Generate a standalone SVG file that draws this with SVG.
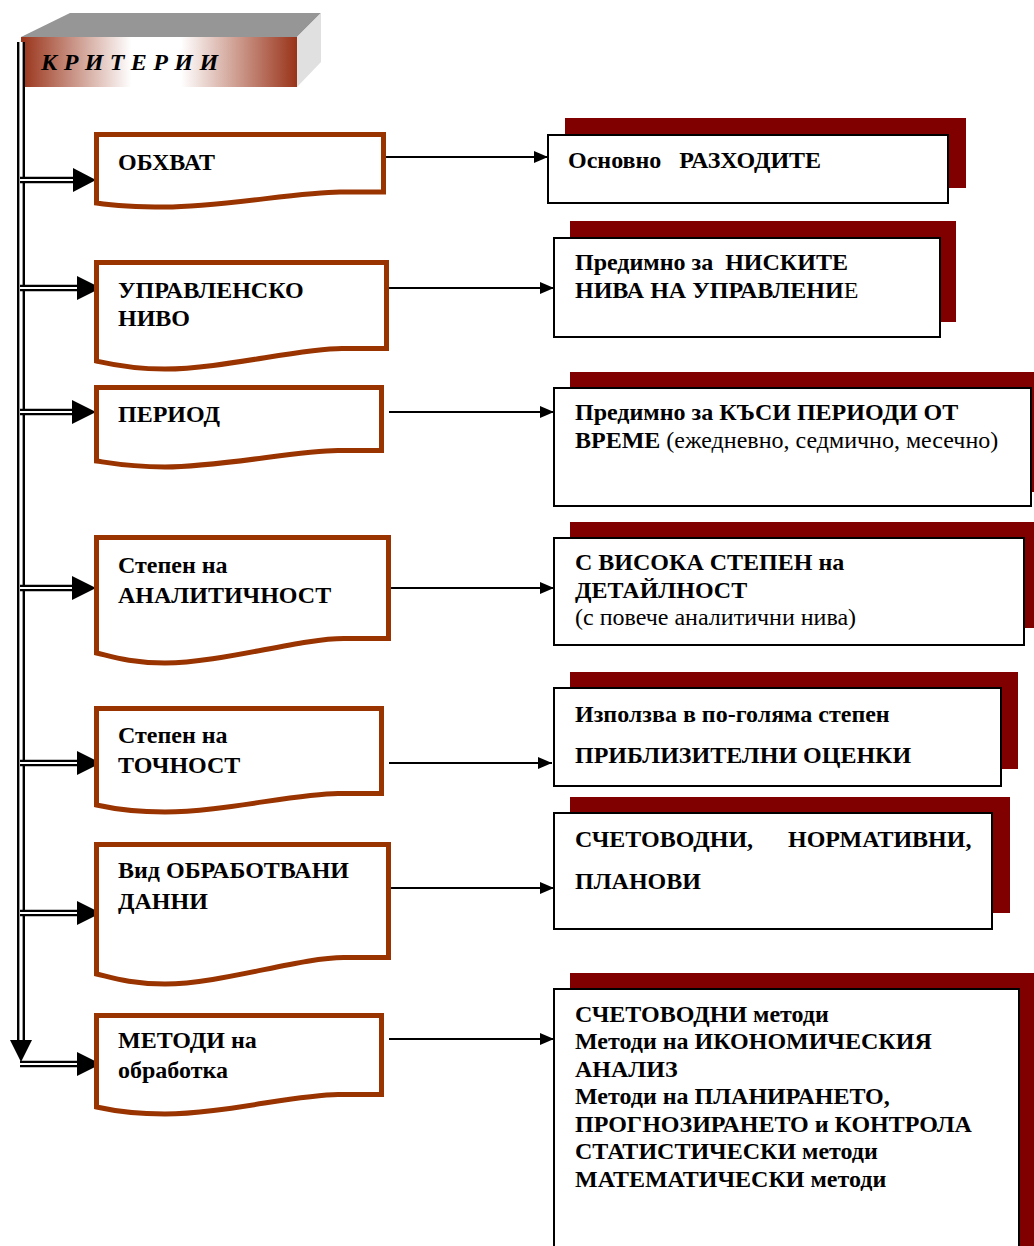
<svg xmlns="http://www.w3.org/2000/svg" width="1034" height="1246" viewBox="0 0 1034 1246">
<defs>
<linearGradient id="hg" x1="0" y1="0" x2="1" y2="0">
<stop offset="0" stop-color="#993319"/>
<stop offset="0.4" stop-color="#ffffff"/>
<stop offset="0.58" stop-color="#ffffff"/>
<stop offset="1" stop-color="#993319"/>
</linearGradient>
<marker id="ah" viewBox="0 0 14 12" refX="14" refY="6" markerWidth="14" markerHeight="12" markerUnits="userSpaceOnUse" orient="auto">
<path d="M0,0 L14,6 L0,12 Z" fill="#000"/>
</marker>
</defs>
<style>
.lb{fill:#fff;stroke:#993300;stroke-width:5;stroke-linejoin:miter}
.rb{fill:#fff;stroke:#000;stroke-width:2}
.sh{fill:#800000}
.t{font-family:"Liberation Serif","Times New Roman",serif;font-weight:bold;fill:#000}
.lt{font-size:24px}
.rt{font-size:24px}
.n{font-weight:normal}
.out{stroke:#000;stroke-width:2;fill:none;marker-end:url(#ah)}
.dbo{stroke:#000;stroke-width:6.5;fill:none}
.dbi{stroke:#fff;stroke-width:2;fill:none}
</style>

<g id="header">
<polygon points="21,37 70,13 321,13 297,37" fill="#969696"/>
<polygon points="297,37 321,13 321,62 297,87" fill="#e0e0e0"/>
<rect x="21" y="37" width="276" height="50" fill="url(#hg)"/>
<text x="41" y="70" class="t" font-size="24" font-style="italic" letter-spacing="0.2">К Р И Т Е Р И И</text>
</g>

<g id="connectors">
<line x1="21" y1="42" x2="21" y2="1042" stroke="#000" stroke-width="8"/>
<line x1="21" y1="42" x2="21" y2="1040" stroke="#fff" stroke-width="3.2"/>
<polygon points="10,1040 32,1040 21,1062" fill="#000"/>

<path class="dbo" d="M20,180 H78"/><path class="dbi" d="M20,180 H76"/><polygon points="73,168 96,180 73,192" fill="#000"/>
<path class="dbo" d="M20,288 H80"/><path class="dbi" d="M20,288 H78"/><polygon points="77,276 101,288 77,300" fill="#000"/>
<path class="dbo" d="M20,412 H76"/><path class="dbi" d="M20,412 H74"/><polygon points="72,400 96,412 72,424" fill="#000"/>
<path class="dbo" d="M20,588 H76"/><path class="dbi" d="M20,588 H74"/><polygon points="72,576 96,588 72,600" fill="#000"/>
<path class="dbo" d="M20,763 H80"/><path class="dbi" d="M20,763 H78"/><polygon points="77,751 101,763 77,775" fill="#000"/>
<path class="dbo" d="M20,913 H80"/><path class="dbi" d="M20,913 H78"/><polygon points="77,901 101,913 77,925" fill="#000"/>
<path class="dbo" d="M20,1064 H80"/><path class="dbi" d="M20,1064 H78"/><polygon points="77,1052 101,1064 77,1076" fill="#000"/>

<line class="out" x1="386" y1="157" x2="548" y2="157"/>
<line class="out" x1="389" y1="288" x2="554" y2="288"/>
<line class="out" x1="389" y1="412" x2="554" y2="412"/>
<line class="out" x1="389" y1="588" x2="554" y2="588"/>
<line class="out" x1="389" y1="763" x2="552" y2="763"/>
<line class="out" x1="389" y1="888" x2="554" y2="888"/>
<line class="out" x1="389" y1="1039" x2="554" y2="1039"/>
</g>

<g id="n1">
<path class="lb" d="M96.5,203 V134.5 H383.5 V192 L340,192 C300,192 220,207 165,207 C130,207 110,205 96.5,203 Z"/>
<text class="t lt" x="118" y="170">ОБХВАТ</text>
</g>
<g id="n2">
<path class="lb" d="M96.5,361 V262.5 H386.5 V348.5 L342,348.5 C300,348.5 220,369 165,369 C130,369 110,364 96.5,361 Z"/>
<text class="t lt" x="118" y="298">УПРАВЛЕНСКО</text>
<text class="t lt" x="118" y="326">НИВО</text>
</g>
<g id="n3">
<path class="lb" d="M96.5,461 V387.5 H381.5 V450.5 L338,450.5 C298,450.5 220,467 165,467 C130,467 110,463 96.5,461 Z"/>
<text class="t lt" x="118" y="422">ПЕРИОД</text>
</g>
<g id="n4">
<path class="lb" d="M96.5,653 V537.5 H388.5 V638.5 L344,638.5 C300,638.5 220,663 165,663 C130,663 110,656 96.5,653 Z"/>
<text class="t lt" x="118" y="573">Степен на</text>
<text class="t lt" x="118" y="603">АНАЛИТИЧНОСТ</text>
</g>
<g id="n5">
<path class="lb" d="M96.5,805 V708.5 H381.5 V793.5 L338,793.5 C298,793.5 220,812 165,812 C130,812 110,808 96.5,805 Z"/>
<text class="t lt" x="118" y="743">Степен на</text>
<text class="t lt" x="118" y="773">ТОЧНОСТ</text>
</g>
<g id="n6">
<path class="lb" d="M96.5,974 V844.5 H388.5 V957.5 L344,957.5 C300,957.5 220,984 165,984 C130,984 110,977 96.5,974 Z"/>
<text class="t lt" x="118" y="878">Вид ОБРАБОТВАНИ</text>
<text class="t lt" x="118" y="909">ДАННИ</text>
</g>
<g id="n7">
<path class="lb" d="M96.5,1107 V1015.5 H381.5 V1094.5 L338,1094.5 C298,1094.5 220,1114 165,1114 C130,1114 110,1110 96.5,1107 Z"/>
<text class="t lt" x="118" y="1048">МЕТОДИ на</text>
<text class="t lt" x="118" y="1078">обработка</text>
</g>

<g id="r1">
<rect class="sh" x="565" y="118" width="401" height="70"/>
<rect class="rb" x="548" y="135" width="400" height="68"/>
<text class="t rt" x="568" y="168" xml:space="preserve">Основно   РАЗХОДИТЕ</text>
</g>
<g id="r2">
<rect class="sh" x="570" y="221" width="386" height="101"/>
<rect class="rb" x="554" y="238" width="386" height="99"/>
<text class="t rt" x="575" y="270" xml:space="preserve">Предимно за  НИСКИТЕ</text>
<text class="t rt" x="575" y="298">НИВА НА УПРАВЛЕНИ<tspan class="n">Е</tspan></text>
</g>
<g id="r3">
<rect class="sh" x="570" y="372" width="470" height="120"/>
<rect class="rb" x="554" y="388" width="477" height="118"/>
<text class="t rt" x="575" y="420">Предимно за КЪСИ ПЕРИОДИ ОТ</text>
<text class="t rt" x="575" y="448">ВРЕМЕ <tspan class="n">(ежедневно, седмично, месечно)</tspan></text>
</g>
<g id="r4">
<rect class="sh" x="570" y="522" width="470" height="106"/>
<rect class="rb" x="554" y="538" width="470" height="107"/>
<text class="t rt" x="575" y="570">С ВИСОКА СТЕПЕН на</text>
<text class="t rt" x="575" y="598">ДЕТАЙЛНОСТ</text>
<text class="t rt n" x="575" y="625">(с повече аналитични нива)</text>
</g>
<g id="r5">
<rect class="sh" x="570" y="672" width="448" height="97"/>
<rect class="rb" x="554" y="688" width="447" height="98"/>
<text class="t rt" x="575" y="722">Използва в по-голяма степен</text>
<text class="t rt" x="575" y="763">ПРИБЛИЗИТЕЛНИ ОЦЕНКИ</text>
</g>
<g id="r6">
<rect class="sh" x="570" y="797" width="440" height="116"/>
<rect class="rb" x="554" y="813" width="438" height="116"/>
<text class="t rt" x="575" y="847">СЧЕТОВОДНИ,</text>
<text class="t rt" x="788" y="847">НОРМАТИВНИ,</text>
<text class="t rt" x="575" y="889">ПЛАНОВИ</text>
</g>
<g id="r7">
<rect class="sh" x="570" y="973" width="470" height="290"/>
<rect class="rb" x="554" y="989" width="465" height="280"/>
<text class="t rt" x="575" y="1022">СЧЕТОВОДНИ методи</text>
<text class="t rt" x="575" y="1049">Методи на ИКОНОМИЧЕСКИЯ</text>
<text class="t rt" x="575" y="1077">АНАЛИЗ</text>
<text class="t rt" x="575" y="1104">Методи на ПЛАНИРАНЕТО,</text>
<text class="t rt" x="575" y="1132">ПРОГНОЗИРАНЕТО и КОНТРОЛА</text>
<text class="t rt" x="575" y="1159">СТАТИСТИЧЕСКИ методи</text>
<text class="t rt" x="575" y="1187">МАТЕМАТИЧЕСКИ методи</text>
</g>
</svg>
